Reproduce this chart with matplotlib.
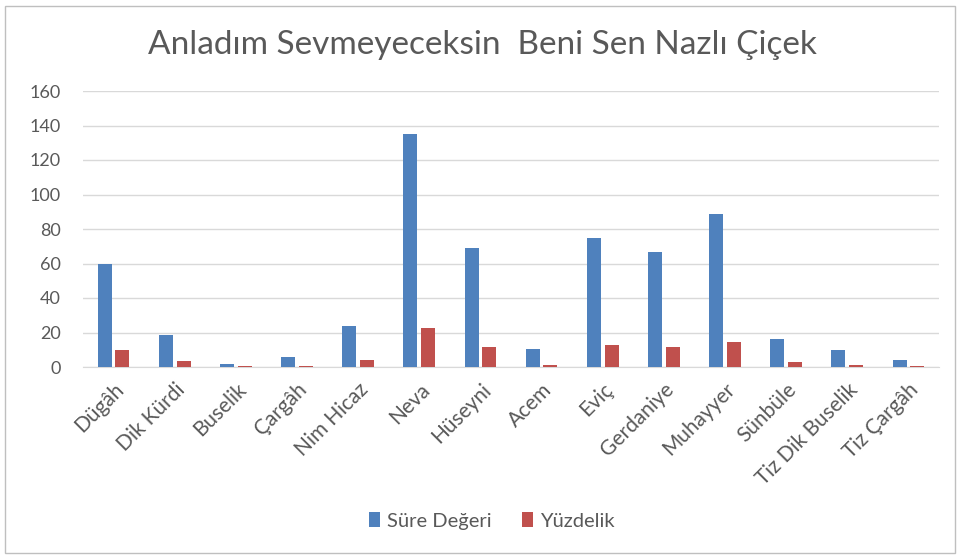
import numpy as np
import matplotlib.pyplot as plt
from matplotlib.patches import Rectangle

plt.rcParams['font.family'] = ['Lato', 'DejaVu Sans']

makamlar = ['Dügâh', 'Dik Kürdi', 'Buselik', 'Çargâh', 'Nim Hicaz', 'Neva', 'Hüseyni',
            'Acem', 'Eviç', 'Gerdaniye', 'Muhayyer', 'Sünbüle', 'Tiz Dik Buselik', 'Tiz Çargâh']
sure_degeri = [59.6, 18.5, 1.9, 6.0, 23.9, 135.1, 68.9, 10.6, 74.9, 66.8, 88.8, 16.0, 10.0, 3.9]
yuzdelik = [9.8, 3.3, 0.8, 0.8, 3.9, 22.4, 11.4, 1.4, 12.5, 11.4, 14.5, 2.7, 1.4, 0.8]

gray = '#595959'
fig = plt.figure(figsize=(9.64, 5.57), dpi=100)
ax = fig.add_axes([83/964, 1 - 367/557, (939 - 83)/964, (367 - 91)/557])

x = np.arange(len(makamlar))
w = 0.23
gap = 0.06
ax.bar(x - (w + gap)/2, sure_degeri, w, color='#4F81BD', label='Süre Değeri', zorder=3)
ax.bar(x + (w + gap)/2, yuzdelik, w, color='#C0504D', label='Yüzdelik', zorder=3)

ax.set_xlim(-0.5, len(makamlar) - 0.5)
ax.set_ylim(0, 160)
ax.set_yticks(range(0, 161, 20))
ax.grid(axis='y', color='#d9d9d9', linewidth=1, zorder=0)
for s in ['top', 'right', 'left']:
    ax.spines[s].set_visible(False)
ax.spines['bottom'].set_color('#d9d9d9')
ax.tick_params(axis='both', length=0, colors=gray, labelsize=13)
ax.tick_params(axis='y', pad=16)
ax.tick_params(axis='x', pad=9)
ax.set_xticks(x)
ax.set_xticklabels(makamlar, rotation=45, ha='right', rotation_mode='anchor', fontsize=15, color=gray)

fig.suptitle('Anladım Sevmeyeceksin  Beni Sen Nazlı Çiçek', y=1 - 45/557, va='center',
             fontsize=24, color=gray)

fig.legend(loc='center', bbox_to_anchor=(492/964, 1 - 521/557), ncol=2, frameon=False,
           fontsize=14.5, labelcolor=gray, handlelength=0.55, handleheight=0.75,
           handletextpad=0.35, columnspacing=1.5)

fig.patches.append(Rectangle((5/964, 4/557), 950/964, 547/557, transform=fig.transFigure,
                             fill=False, edgecolor='#bfbfbf', linewidth=1))

plt.savefig('out.png')
